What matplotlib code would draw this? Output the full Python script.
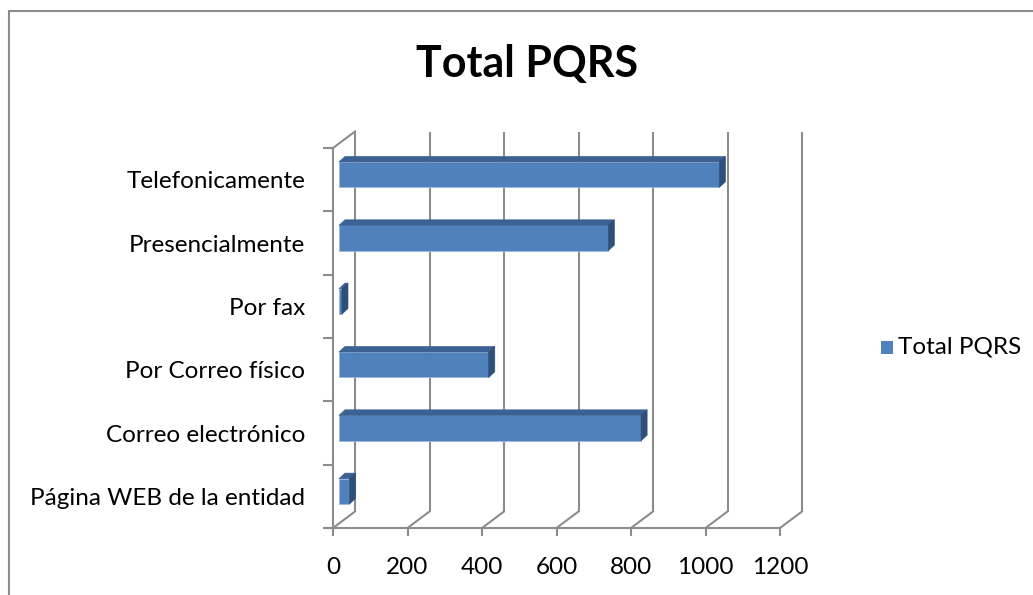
import numpy as np
import matplotlib
matplotlib.use("Agg")
import matplotlib.pyplot as plt
from matplotlib.patches import Polygon, Rectangle

# ---------------------------------------------------------------------------
# Data
# ---------------------------------------------------------------------------
categories = ["Página WEB de la entidad", "Correo electrónico", "Por Correo físico",
              "Por fax", "Presencialmente", "Telefonicamente"]
values = [28, 811, 402, 8, 723, 1021]
xticks = [0, 200, 400, 600, 800, 1000, 1200]
series_name = "Total PQRS"

FRONT = "#4F81BD"
TOP = "#3B6293"
SIDE = "#2E5078"
GRID = "#8C8C8C"

plt.rcParams['font.family'] = ['Lato', 'DejaVu Sans']

W, H = 1033, 595
fig = plt.figure(figsize=(W / 100, H / 100), dpi=100)

# front plane of the fake 3D box, in pixels
x0, x1 = 333, 780
ytop, ybot = 148, 528
ax = fig.add_axes([x0 / W, (H - ybot) / H, (x1 - x0) / W, (ybot - ytop) / H])
ax.set_xlim(0, 1200)
ax.set_ylim(0, len(categories))

# pixel -> data conversion
ux = 1200 / (x1 - x0)
uy = len(categories) / (ybot - ytop)

# depth of the box (back wall offset)
DX, DY = 22 * ux, 16.5 * uy

# back wall gridlines + floor diagonals
for v in xticks:
    ax.plot([v + DX, v + DX], [DY, len(categories) + DY], color=GRID, lw=1.5,
            clip_on=False, zorder=1, solid_capstyle='butt')
    ax.plot([v, v + DX], [0, DY], color=GRID, lw=1.5, clip_on=False, zorder=1)
# left wall top edge
ax.plot([0, DX], [len(categories), len(categories) + DY], color=GRID, lw=1.5,
        clip_on=False, zorder=1)

# bars (front face, top face, side face)
fx, fy = 6 * ux, 5 * uy       # offset of bar front face
bx, by = 12 * ux, 10.5 * uy   # offset of bar back face
h = 0.2
for i, v in enumerate(values):
    c = i + 0.5
    ax.add_patch(Polygon([(fx, c - h + fy), (v + fx, c - h + fy),
                          (v + fx, c + h + fy), (fx, c + h + fy)],
                         closed=True, facecolor=FRONT, edgecolor="#9DB5D6",
                         lw=0.6, clip_on=False, zorder=3))
    ax.add_patch(Polygon([(fx, c + h + fy), (v + fx, c + h + fy),
                          (v + bx, c + h + by), (bx, c + h + by)],
                         closed=True, facecolor=TOP, edgecolor=TOP, lw=0.5,
                         clip_on=False, zorder=3))
    ax.add_patch(Polygon([(v + fx, c - h + fy), (v + bx, c - h + by),
                          (v + bx, c + h + by), (v + fx, c + h + fy)],
                         closed=True, facecolor=SIDE, edgecolor=SIDE, lw=0.5,
                         clip_on=False, zorder=3))

# axes styling
for s in ["top", "right"]:
    ax.spines[s].set_visible(False)
for s in ["left", "bottom"]:
    ax.spines[s].set_color(GRID)
    ax.spines[s].set_linewidth(1.5)
ax.set_xticks(xticks)
ax.set_xticklabels([str(t) for t in xticks], fontsize=17.5)
ax.tick_params(axis='x', length=6, width=1.5, color=GRID, pad=15)
ax.set_yticks(np.arange(len(categories)) + 0.5)
ax.set_yticklabels(categories, fontsize=17.5)
ax.tick_params(axis='y', length=0, pad=20)
ax.set_yticks(np.arange(len(categories) + 1), minor=True)
ax.tick_params(axis='y', which='minor', length=7, width=1.5, color=GRID)
ax.patch.set_visible(False)

# title
fig.text(527 / W, 1 - 64 / H, "Total PQRS", ha="center", va="center",
         fontsize=31, fontweight="bold")

# legend
fig.patches.append(Rectangle((881 / W, 1 - 354 / H), 12 / W, 13 / H,
                             transform=fig.transFigure, facecolor=FRONT,
                             edgecolor="none"))
fig.text(898 / W, 1 - 347 / H, series_name, ha="left", va="center", fontsize=17.5)

# chart border
fig.patches.append(Rectangle((8.5 / W, -0.1), 1.2, 1.1 - 11.5 / H,
                             transform=fig.transFigure, fill=False,
                             edgecolor=GRID, lw=1.5))

fig.savefig("out.png", dpi=100)
